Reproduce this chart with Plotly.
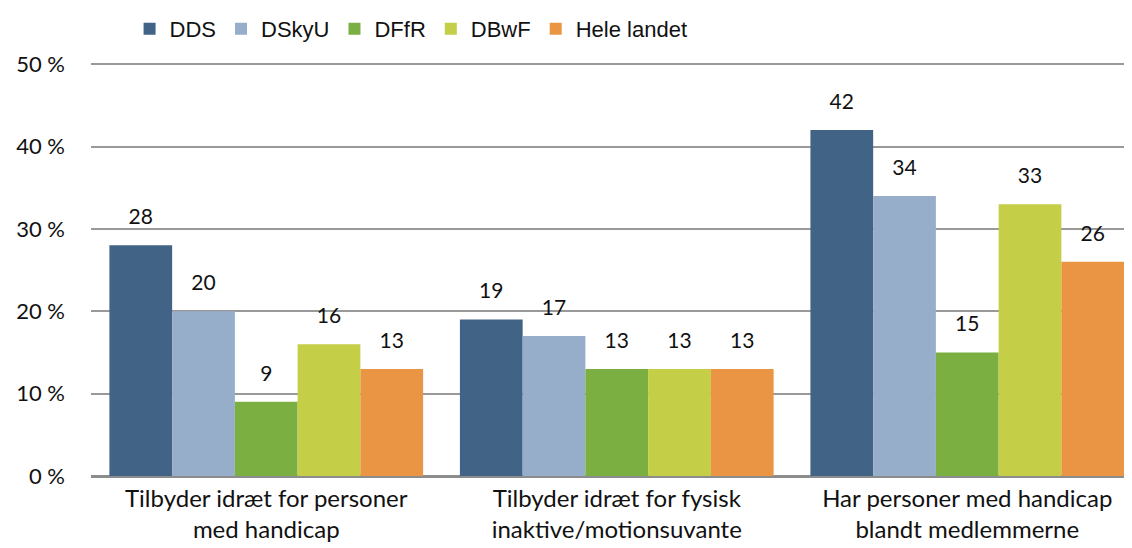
import plotly.graph_objects as go

categories = ["Tilbyder idræt for personer<br>med handicap",
              "Tilbyder idræt for fysisk<br>inaktive/motionsuvante",
              "Har personer med handicap<br>blandt medlemmerne"]
series_names = ["DDS", "DSkyU", "DFfR", "DBwF", "Hele landet"]
dds = [28, 19, 42]
dskyu = [20, 17, 34]
dffr = [9, 13, 15]
dbwf = [16, 13, 33]
hele = [13, 13, 26]
colors = ["#416386", "#97AECB", "#7CAF42", "#C4CE47", "#EA9544"]
y_ticks = [0, 10, 20, 30, 40, 50]
y_tick_labels = ["0 %", "10 %", "20 %", "30 %", "40 %", "50 %"]

values = [dds, dskyu, dffr, dbwf, hele]
fig = go.Figure()
for name, vals, col in zip(series_names, values, colors):
    fig.add_trace(go.Bar(
        name=name, x=categories, y=vals, marker_color=col,
        marker_line_width=0, offsetgroup=name,
        hoverinfo="skip",
    ))
for name, vals in zip(series_names, values):
    fig.add_trace(go.Scatter(
        x=categories, y=vals, mode="markers+text", offsetgroup=name,
        marker=dict(size=24, opacity=0), showlegend=False,
        text=[str(v) for v in vals], textposition="top center",
        textfont=dict(family="Lato", size=21, color="#111"),
        cliponaxis=False, hoverinfo="skip",
    ))

fig.update_layout(
    width=1132, height=548,
    margin=dict(l=83, r=15, t=52, b=80, autoexpand=False),
    paper_bgcolor="white", plot_bgcolor="white",
    barmode="group", bargap=0.105, bargroupgap=0,
    scattermode="group", scattergap=0.105,
    font=dict(family="Lato, sans-serif", size=21, color="#111"),
    legend=dict(orientation="h", xref="container", yref="container",
                x=0.1074, y=1.0, xanchor="left", yanchor="top",
                font=dict(family="Liberation Sans, sans-serif", size=22, color="#111"),
                itemwidth=30, traceorder="normal"),
    showlegend=True,
)
fig.update_xaxes(range=[-0.5, 2.45], showgrid=False, ticks="", showline=False,
                 automargin=False, ticklabelstandoff=6,
                 tickfont=dict(family="Lato", size=24, color="#111"))
fig.update_yaxes(range=[0, 50.5], tickvals=y_ticks, ticktext=y_tick_labels,
                 showgrid=True, gridcolor="#999999", gridwidth=1.5,
                 zeroline=True, zerolinecolor="#8c8c8c", zerolinewidth=3,
                 ticks="", showline=False, automargin=False,
                 ticklabelstandoff=25,
                 tickfont=dict(family="Lato", size=22, color="#111"))
fig.write_html("out.html")
